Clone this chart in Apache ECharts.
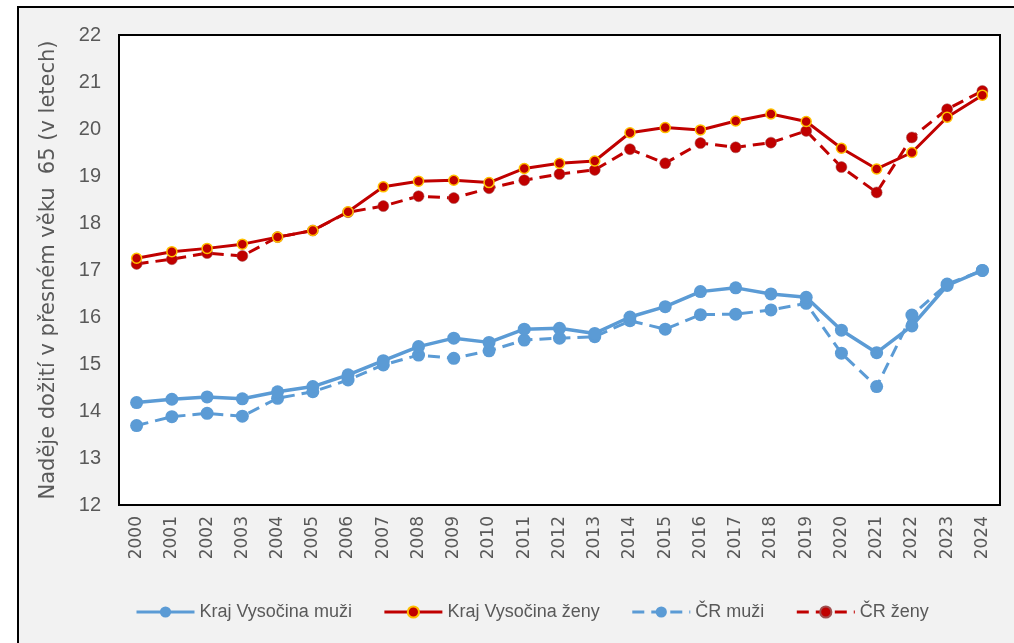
<!DOCTYPE html>
<html>
<head>
<meta charset="utf-8">
<script src="https://cdn.jsdelivr.net/npm/echarts@6/dist/echarts.min.js"></script>
<style>
html,body{margin:0;padding:0;background:#fff;}
#c{width:1014px;height:643px;}
</style>
</head>
<body>
<div id="c"></div>
<script>
const years = ['2000','2001','2002','2003','2004','2005','2006','2007','2008','2009','2010','2011','2012','2013','2014','2015','2016','2017','2018','2019','2020','2021','2022','2023','2024'];
const krajMuzi = [14.18,14.25,14.30,14.26,14.41,14.52,14.77,15.07,15.37,15.55,15.46,15.74,15.76,15.65,16.00,16.22,16.54,16.62,16.49,16.42,15.72,15.24,15.81,16.67,16.99];
const krajZeny = [17.25,17.39,17.46,17.55,17.70,17.84,18.24,18.77,18.89,18.91,18.86,19.16,19.27,19.32,19.92,20.03,19.98,20.17,20.32,20.16,19.59,19.15,19.50,20.25,20.72];
const crMuzi = [13.69,13.88,13.95,13.89,14.27,14.41,14.66,14.98,15.19,15.12,15.28,15.51,15.55,15.58,15.92,15.74,16.05,16.06,16.15,16.29,15.23,14.52,16.04,16.70,16.99];
const crZeny = [17.13,17.23,17.36,17.30,17.70,17.84,18.23,18.36,18.57,18.53,18.74,18.91,19.04,19.13,19.57,19.27,19.70,19.61,19.71,19.96,19.19,18.65,19.82,20.42,20.81];
const yTitle = 'Naděje dožití v přesném věku  65 (v letech)';
const names = ['Kraj Vysočina muži','Kraj Vysočina ženy','ČR muži','ČR ženy'];

const chart = echarts.init(document.getElementById('c'), null, {renderer:'canvas'});
const gray = '#595959';
const blue = '#5b9bd5';
const red = '#c00000';
chart.setOption({
  animation: false,
  backgroundColor: '#fff',
  graphic: [{
    type: 'rect', z: -10, silent: true,
    shape: {x: 18, y: 7, width: 1020, height: 660},
    style: {fill: '#f2f2f2', stroke: '#000', lineWidth: 2}
  }],
  grid: {left: 119, top: 35, right: 14, bottom: 138, show: true, backgroundColor: '#fff', borderColor: '#000', borderWidth: 2, z: 1},
  legend: {
    left: 130, top: 598, itemWidth: 58, itemHeight: 14, itemGap: 31,
    lineStyle: {width: 3},
    textStyle: {fontFamily: "'Liberation Sans',sans-serif", fontSize: 18, color: gray},
    data: names
  },
  xAxis: {
    type: 'category', data: years, boundaryGap: true,
    axisLine: {show: false}, axisTick: {show: false},
    splitLine: {show: true, lineStyle: {color: '#d9d9d9', width: 2}},
    axisLabel: {rotate: 90, margin: 11, fontFamily: "'DejaVu Sans',sans-serif", fontSize: 17, color: gray, interval: 0}
  },
  yAxis: {
    type: 'value', min: 12, max: 22, interval: 1,
    name: yTitle, nameLocation: 'middle', nameRotate: 90, nameGap: 60,
    nameTextStyle: {fontFamily: "'DejaVu Sans',sans-serif", fontSize: 21, color: gray},
    axisLine: {show: false}, axisTick: {show: false},
    splitLine: {show: true, lineStyle: {color: '#d0d0d0', width: 2}},
    axisLabel: {margin: 18, fontFamily: "'Liberation Sans',sans-serif", fontSize: 20, color: gray}
  },
  series: [
    {name: names[2], type: 'line', data: crMuzi, symbol: 'circle', symbolSize: 13,
     itemStyle: {color: blue}, lineStyle: {color: blue, width: 3, type: [12, 7]}, z: 3},
    {name: names[3], type: 'line', data: crZeny, symbol: 'circle', symbolSize: 11,
     itemStyle: {color: red, borderColor: '#a05050', borderWidth: 0.5}, lineStyle: {color: red, width: 3, type: [12, 7]}, z: 3},
    {name: names[0], type: 'line', data: krajMuzi, symbol: 'circle', symbolSize: 13,
     itemStyle: {color: blue}, lineStyle: {color: blue, width: 3.5}, z: 4},
    {name: names[1], type: 'line', data: krajZeny, symbol: 'circle', symbolSize: 10,
     itemStyle: {color: red, borderColor: '#ffc000', borderWidth: 1.5}, lineStyle: {color: red, width: 3}, z: 4}
  ]
});
</script>
</body>
</html>
